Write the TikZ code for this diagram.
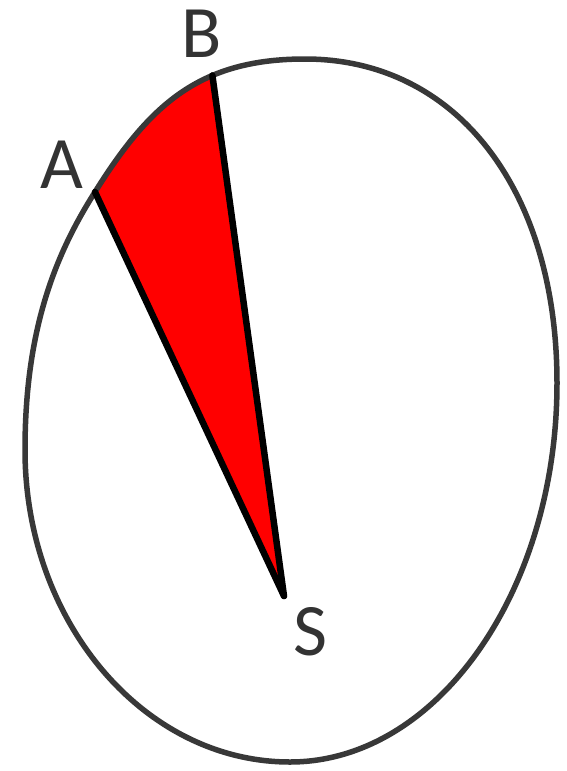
\documentclass[tikz,border=0pt]{standalone}
\usepackage{fontspec}
\setmainfont{Carlito}
\usetikzlibrary{calc}
\begin{document}
\begin{tikzpicture}[x=1pt,y=-1pt,
  ovalline/.style={draw=black!78, line width=5.5pt},
  radius line/.style={draw=black, line width=6.5pt, line cap=round},
  ptlabel/.style={text=black!80, font=\fontsize{74}{80}\selectfont, inner sep=0pt, anchor=base}]
\useasboundingbox (0,0) rectangle (566,771);
\fill[white] (0,0) rectangle (566,771);
\def\ovalpath{(25,450) .. controls (25,330) and (55,255) .. (95,192)
  .. controls (150,104) and (200,59) .. (305,59)
  .. controls (456,59) and (557,189) .. (557,383)
  .. controls (557,591) and (437,762) .. (290,762)
  .. controls (144,762) and (25,622) .. (25,450) -- cycle}
\coordinate (A) at (95,192);
\path (95,192) .. controls (150,104) and (200,59) .. coordinate[pos=0.65] (B) (305,59);
\coordinate (S) at (284,596);
\begin{scope}
  \clip \ovalpath;
  \fill[red] (S) -- ($(S)!1.6!(A)$) -- ($(S)!1.6!(B)$) -- cycle;
\end{scope}
\path[ovalline] \ovalpath;
\draw[radius line] (S) -- (A);
\draw[radius line] (S) -- (B);
\node[ptlabel] (la) at (62,188) {A};
\node[ptlabel] (lb) at (202,57) {B};
\node[ptlabel] (ls) at (310,655) {S};
\end{tikzpicture}
\end{document}
